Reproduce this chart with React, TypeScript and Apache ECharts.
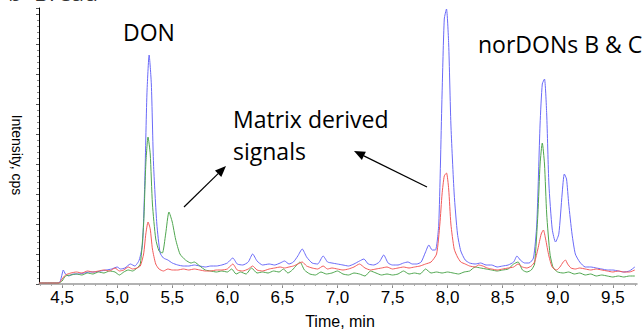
import React, { useEffect, useRef } from "react";
import * as echarts from "echarts";

const majorTicks = [4.5, 5.0, 5.5, 6.0, 6.5, 7.0, 7.5, 8.0, 8.5, 9.0, 9.5];

const blueData: [number, number][] = [
  [4.29, 1], [4.45, 1], [4.48, 2], [4.5, 10], [4.51, 14], [4.53, 10], [4.56, 8], [4.6, 10], [4.65, 10], [4.7, 11],
  [4.75, 12], [4.8, 12], [4.85, 13], [4.9, 14], [4.95, 15], [5.0, 17], [5.03, 15], [5.07, 16], [5.12, 20], [5.16, 18],
  [5.2, 24], [5.23, 40], [5.25, 100], [5.27, 190], [5.29, 229], [5.31, 200], [5.33, 120], [5.36, 60], [5.39, 31], [5.42, 26],
  [5.46, 24], [5.5, 21], [5.55, 19], [5.6, 18], [5.65, 18], [5.7, 19], [5.75, 18], [5.8, 17], [5.85, 18], [5.9, 18],
  [5.95, 19], [6.0, 21], [6.05, 26], [6.09, 20], [6.14, 19], [6.19, 22], [6.23, 30], [6.27, 23], [6.32, 19], [6.38, 20],
  [6.43, 19], [6.48, 21], [6.52, 23], [6.56, 20], [6.6, 22], [6.64, 28], [6.68, 35], [6.72, 27], [6.77, 21], [6.82, 20],
  [6.87, 28], [6.91, 22], [6.95, 21], [7.0, 20], [7.05, 19], [7.1, 18], [7.15, 20], [7.2, 23], [7.24, 25], [7.28, 20],
  [7.33, 19], [7.38, 22], [7.42, 29], [7.46, 21], [7.5, 19], [7.55, 19], [7.6, 21], [7.64, 22], [7.68, 20], [7.72, 20],
  [7.76, 22], [7.8, 32], [7.83, 39], [7.86, 34], [7.89, 34], [7.92, 60], [7.95, 190], [7.97, 265], [7.99, 275], [8.01, 240],
  [8.03, 160], [8.06, 90], [8.09, 50], [8.12, 33], [8.16, 24], [8.2, 21], [8.25, 20], [8.3, 21], [8.35, 19], [8.4, 19],
  [8.45, 17], [8.5, 18], [8.55, 19], [8.6, 22], [8.63, 28], [8.66, 24], [8.7, 21], [8.74, 21], [8.78, 26], [8.81, 60],
  [8.84, 160], [8.86, 200], [8.88, 205], [8.9, 170], [8.92, 100], [8.95, 55], [8.98, 42], [9.01, 50], [9.04, 90], [9.06, 110],
  [9.08, 105], [9.1, 80], [9.13, 50], [9.16, 30], [9.2, 22], [9.25, 17], [9.3, 17], [9.35, 16], [9.4, 15], [9.45, 14],
  [9.5, 14], [9.55, 13], [9.6, 12], [9.65, 13], [9.7, 17],
];

const greenData: [number, number][] = [
  [4.29, 1], [4.47, 1], [4.5, 3], [4.53, 8], [4.58, 9], [4.63, 10], [4.68, 9], [4.73, 11], [4.78, 10], [4.83, 12],
  [4.88, 11], [4.93, 13], [4.98, 12], [5.02, 9], [5.06, 12], [5.1, 14], [5.14, 13], [5.18, 16], [5.21, 20], [5.24, 60],
  [5.26, 120], [5.28, 147], [5.3, 130], [5.32, 80], [5.35, 45], [5.38, 33], [5.41, 31], [5.44, 50], [5.47, 72], [5.5, 62],
  [5.53, 45], [5.57, 30], [5.62, 24], [5.67, 21], [5.7, 22], [5.75, 18], [5.8, 14], [5.85, 13], [5.9, 12], [5.95, 13],
  [6.0, 12], [6.04, 15], [6.08, 10], [6.12, 12], [6.17, 10], [6.22, 16], [6.27, 11], [6.32, 12], [6.37, 11], [6.42, 13],
  [6.47, 12], [6.51, 15], [6.55, 11], [6.59, 14], [6.63, 19], [6.66, 22], [6.7, 14], [6.75, 10], [6.8, 9], [6.85, 12],
  [6.9, 10], [6.95, 11], [7.0, 13], [7.05, 10], [7.1, 9], [7.15, 11], [7.2, 10], [7.25, 8], [7.3, 13], [7.35, 11],
  [7.4, 9], [7.45, 10], [7.5, 9], [7.55, 10], [7.6, 13], [7.65, 10], [7.7, 11], [7.75, 10], [7.8, 15], [7.85, 11],
  [7.9, 12], [7.95, 11], [8.0, 12], [8.05, 11], [8.1, 10], [8.15, 12], [8.2, 13], [8.25, 17], [8.3, 16], [8.35, 15],
  [8.4, 14], [8.45, 13], [8.5, 14], [8.55, 15], [8.6, 20], [8.64, 22], [8.68, 14], [8.72, 12], [8.76, 14], [8.79, 20],
  [8.82, 70], [8.84, 120], [8.86, 141], [8.88, 120], [8.9, 70], [8.93, 30], [8.96, 16], [9.0, 12], [9.05, 11], [9.1, 12],
  [9.15, 10], [9.2, 11], [9.25, 9], [9.3, 10], [9.35, 8], [9.4, 9], [9.45, 8], [9.5, 7], [9.55, 8], [9.6, 7],
  [9.65, 8], [9.7, 8],
];

const redData: [number, number][] = [
  [4.29, 1], [4.47, 1], [4.5, 5], [4.53, 9], [4.58, 11], [4.63, 12], [4.68, 11], [4.73, 13], [4.78, 12], [4.83, 13],
  [4.88, 14], [4.93, 13], [4.98, 16], [5.02, 13], [5.06, 14], [5.1, 17], [5.14, 15], [5.18, 16], [5.21, 18], [5.24, 30],
  [5.26, 50], [5.28, 62], [5.3, 55], [5.32, 35], [5.35, 20], [5.38, 15], [5.42, 13], [5.46, 15], [5.5, 14], [5.55, 14],
  [5.6, 15], [5.65, 14], [5.7, 15], [5.75, 14], [5.8, 13], [5.85, 13], [5.9, 14], [5.95, 14], [6.0, 15], [6.05, 20],
  [6.09, 14], [6.14, 13], [6.19, 15], [6.23, 18], [6.27, 14], [6.32, 13], [6.38, 15], [6.43, 16], [6.48, 17], [6.52, 16],
  [6.56, 17], [6.6, 18], [6.64, 20], [6.68, 22], [6.72, 18], [6.77, 16], [6.82, 15], [6.87, 18], [6.91, 15], [6.95, 16],
  [7.0, 15], [7.05, 14], [7.1, 15], [7.15, 17], [7.2, 20], [7.25, 16], [7.3, 14], [7.35, 15], [7.4, 16], [7.45, 17],
  [7.5, 15], [7.55, 16], [7.6, 17], [7.65, 16], [7.7, 17], [7.75, 18], [7.8, 20], [7.85, 22], [7.9, 30], [7.93, 60],
  [7.95, 90], [7.97, 108], [7.99, 111], [8.01, 95], [8.03, 60], [8.06, 35], [8.09, 27], [8.12, 22], [8.16, 20], [8.2, 18],
  [8.25, 17], [8.28, 19], [8.32, 18], [8.36, 16], [8.4, 15], [8.45, 14], [8.5, 15], [8.55, 16], [8.6, 17], [8.64, 20],
  [8.68, 17], [8.72, 16], [8.76, 18], [8.79, 22], [8.82, 35], [8.85, 50], [8.87, 54], [8.89, 45], [8.92, 28], [8.95, 17],
  [8.99, 14], [9.02, 17], [9.05, 22], [9.07, 24], [9.09, 20], [9.12, 16], [9.16, 15], [9.2, 16], [9.25, 15], [9.3, 14],
  [9.35, 15], [9.4, 14], [9.45, 13], [9.5, 12], [9.55, 13], [9.6, 12], [9.65, 12], [9.7, 14],
];

const X_MIN = 4.29;
const X_MAX = 9.72;

function arrow(x1: number, y1: number, x2: number, y2: number) {
  const ang = Math.atan2(y2 - y1, x2 - x1);
  const len = 11;
  const w = 4.5;
  const bx = x2 - len * Math.cos(ang);
  const by = y2 - len * Math.sin(ang);
  const px = -Math.sin(ang) * w;
  const py = Math.cos(ang) * w;
  return [
    { type: "line", shape: { x1, y1, x2: bx, y2: by }, style: { stroke: "#000", lineWidth: 1.2 } },
    {
      type: "polygon",
      shape: { points: [[x2, y2], [bx + px, by + py], [bx - px, by - py]] },
      style: { fill: "#000" },
    },
  ];
}

export default function App() {
  const ref = useRef<HTMLDivElement>(null);
  useEffect(() => {
    if (!ref.current) return;
    const chart = echarts.init(ref.current, undefined, { renderer: "svg" });
    const minorTicks: number[] = [];
    for (let i = 43; i <= 97; i++) minorTicks.push(i / 10);
    const annFont = "'Open Sans', sans-serif";
    const option: any = {
      animation: false,
      backgroundColor: "#fff",
      grid: { left: 39, right: 7, top: 8, bottom: 45, containLabel: false, outerBoundsMode: "none" },
      xAxis: [
        {
          type: "value",
          min: X_MIN,
          max: X_MAX,
          position: "bottom",
          axisLine: { show: true, onZero: false, lineStyle: { color: "#999", width: 1.5 } },
          axisTick: { show: true, customValues: majorTicks, length: 4, lineStyle: { color: "#888" } },
          axisLabel: {
            customValues: majorTicks,
            formatter: (v: number) => v.toFixed(1).replace(".", ","),
            fontSize: 17,
            color: "#000",
            fontFamily: "Liberation Sans",
            margin: 5,
          },
          splitLine: { show: false },
        },
        {
          type: "value",
          min: X_MIN,
          max: X_MAX,
          position: "bottom",
          offset: 0,
          axisLine: { show: false },
          axisTick: { show: true, customValues: minorTicks, length: 2, lineStyle: { color: "#aaa" } },
          axisLabel: { show: false },
          splitLine: { show: false },
        },
      ],
      yAxis: {
        type: "value",
        min: 0,
        max: 276,
        interval: 30,
        axisLine: { show: true, lineStyle: { color: "#000", width: 1 } },
        axisTick: { show: true, length: 3, lineStyle: { color: "#555" } },
        minorTick: { show: true, splitNumber: 5, length: 2, lineStyle: { color: "#888" } },
        axisLabel: { show: false },
        splitLine: { show: false },
      },
      series: [
        {
          type: "line",
          data: blueData,
          showSymbol: false,
          smooth: 0.2,
          lineStyle: { color: "#6a6af8", width: 1 },
          z: 2,
        },
        {
          type: "line",
          data: greenData,
          showSymbol: false,
          smooth: 0.2,
          lineStyle: { color: "#4fa64f", width: 1 },
          z: 3,
        },
        {
          type: "line",
          data: redData,
          showSymbol: false,
          smooth: 0.2,
          lineStyle: { color: "#f25a5a", width: 1 },
          z: 4,
        },
      ],
      graphic: [
        {
          type: "text",
          left: 8,
          top: -20,
          style: { text: "b  Bread", font: `23px ${annFont}`, fill: "#333" },
        },
        {
          type: "text",
          x: 17,
          y: 155,
          rotation: -Math.PI / 2,
          style: {
            text: "Intensity, cps",
            font: "14px 'Liberation Sans', Arial, sans-serif",
            fill: "#000",
            align: "center",
            verticalAlign: "middle",
          },
        },
        {
          type: "text",
          x: 340,
          y: 321,
          style: {
            text: "Time, min",
            font: "16px 'Liberation Sans', Arial, sans-serif",
            fill: "#000",
            align: "center",
            verticalAlign: "middle",
          },
        },
        {
          type: "text",
          x: 123,
          y: 32,
          style: { text: "DON", font: `23px ${annFont}`, fill: "#000", verticalAlign: "middle" },
        },
        {
          type: "text",
          x: 478,
          y: 44,
          style: { text: "norDONs B & C", font: `23px ${annFont}`, fill: "#000", verticalAlign: "middle" },
        },
        {
          type: "text",
          x: 233,
          y: 119,
          style: { text: "Matrix derived", font: `23px ${annFont}`, fill: "#000", verticalAlign: "middle" },
        },
        {
          type: "text",
          x: 233,
          y: 151,
          style: { text: "signals", font: `23px ${annFont}`, fill: "#000", verticalAlign: "middle" },
        },
        ...arrow(184, 207, 226, 166),
        ...arrow(427, 187, 354, 151),
      ],
    };
    chart.setOption(option);
    return () => chart.dispose();
  }, []);
  return (
    <div
      ref={ref}
      style={{ position: "fixed", left: 0, top: 0, width: 644, height: 329, background: "#fff" }}
    />
  );
}
